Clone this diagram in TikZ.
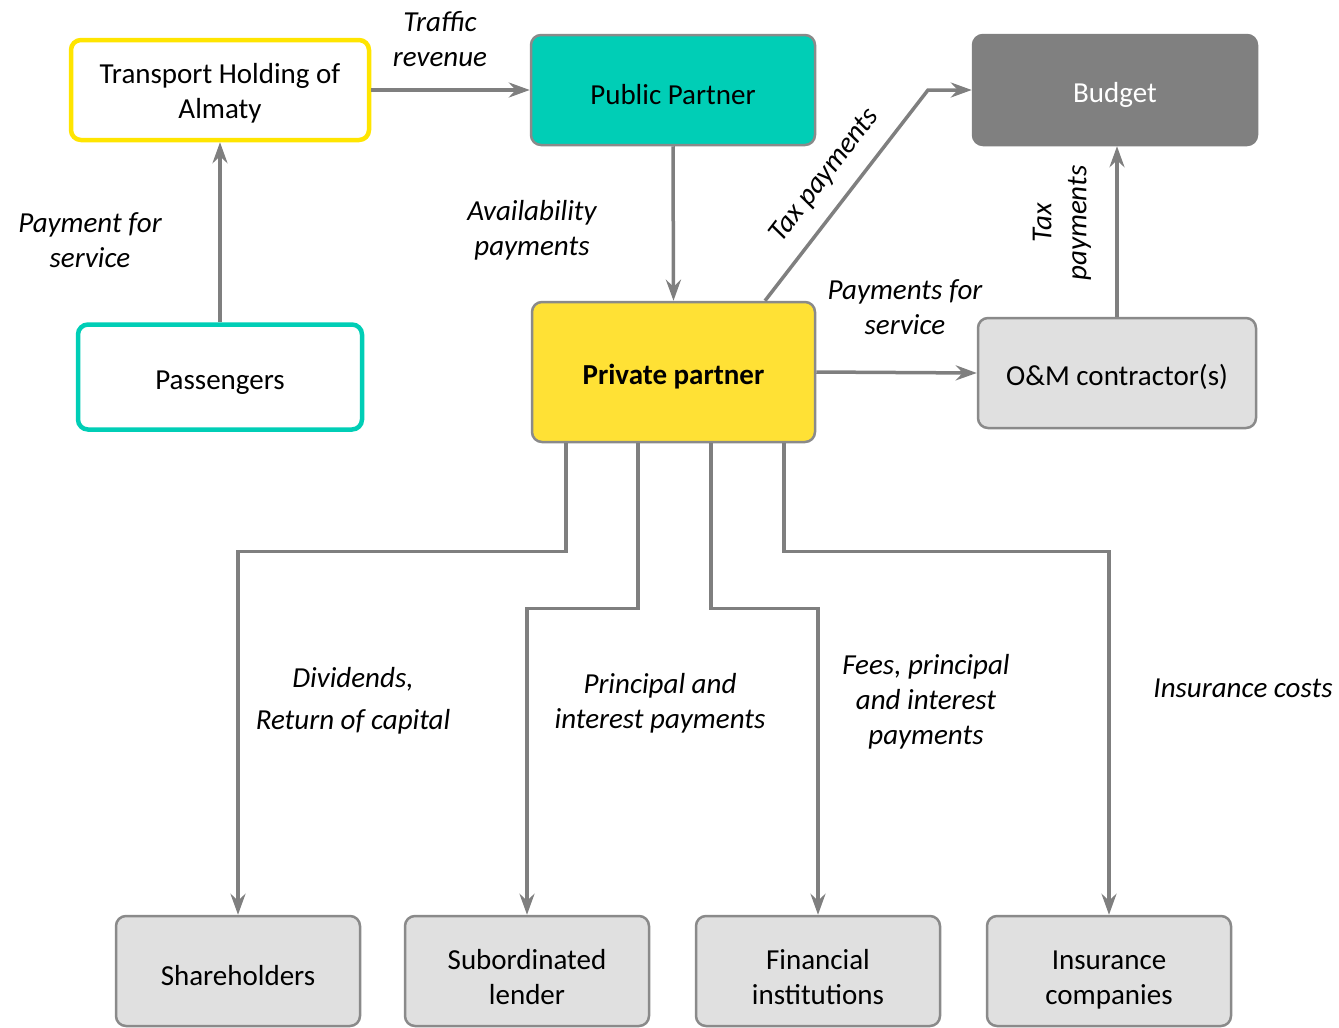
\documentclass[tikz,border=0pt]{standalone}
\usepackage{fontspec}
\setmainfont{Carlito}
\usetikzlibrary{arrows.meta}
\definecolor{teal1}{HTML}{00CEB6}
\definecolor{yel}{HTML}{FFE135}
\definecolor{yelb}{HTML}{FFE500}
\definecolor{lin}{HTML}{7F7F7F}
\definecolor{bord}{HTML}{8A8A8A}
\definecolor{lgray}{HTML}{E0E0E0}
\definecolor{dgray}{HTML}{808080}
\newcommand{\stz}[1]{\rule{0pt}{#1pt}}
\tikzset{
  box/.style={rectangle, rounded corners=10pt, draw=bord, line width=2.5pt, align=center,
    font=\fontsize{29}{35}\selectfont, inner sep=2pt},
  lbl/.style={align=center, font=\fontsize{29}{35}\selectfont\itshape, inner sep=0pt},
  arr/.style={draw=lin, line width=3.5pt, -{Stealth[length=21pt,width=15pt,inset=7pt]}},
}
\begin{document}
\begin{tikzpicture}[x=1pt,y=-1pt]
\useasboundingbox (0,0) rectangle (1339,1028);
% boxes
\node[box, draw=yelb, line width=4.5pt, fill=white, minimum width=298pt, minimum height=100pt] (th) at (220,90) {\stz{27}Transport Holding of\\Almaty};
\node[box, fill=teal1, minimum width=284pt, minimum height=110pt] (pub) at (673,90) {\stz{30}Public Partner};
\node[box, fill=dgray, draw=dgray, text=white, minimum width=284pt, minimum height=110pt] (bu) at (1115,90) {\stz{30}Budget};
\node[box, draw=teal1, line width=4.5pt, fill=white, minimum width=284pt, minimum height=105pt] (pa) at (220,377) {\stz{30}Passengers};
\node[box, fill=yel, minimum width=283pt, minimum height=140pt, font=\fontsize{29}{35}\selectfont\bfseries] (pp) at (673.5,372) {\stz{30}Private partner};
\node[box, fill=lgray, minimum width=278pt, minimum height=110pt] (om) at (1117,373) {\stz{30}O\&M contractor(s)};
\node[box, fill=lgray, minimum width=244pt, minimum height=110pt] (sh) at (238,971) {\stz{30}Shareholders};
\node[box, fill=lgray, minimum width=244pt, minimum height=110pt] (sl) at (527,971) {\stz{33}Subordinated\\lender};
\node[box, fill=lgray, minimum width=244pt, minimum height=110pt] (fi) at (818,971) {\stz{33}Financial\\institutions};
\node[box, fill=lgray, minimum width=244pt, minimum height=110pt] (ic) at (1109,971) {\stz{37}Insurance\\companies};
% connectors
\coordinate (bend) at (928,90);
\draw[arr] (th.east) -- (pub.west);
\draw[arr] (pub.south) -- (pp.north);
\draw[arr] (pa.north) -- (th.south);
\draw[arr] ([xshift=91.5pt]pp.north) -- (bend) -- (bu.west);
\draw[arr] (om.north) -- (bu.south -| om.north);
\draw[arr] (pp.east) -- (om.west);
\draw[arr] ([xshift=-107.5pt]pp.south) -- ++(0,108) -| (sh.north);
\draw[arr] ([xshift=-35.5pt]pp.south) -- ++(0,165) -| (sl.north);
\draw[arr] ([xshift=37.5pt]pp.south) -- ++(0,165) -| (fi.north);
\draw[arr] ([xshift=110.5pt]pp.south) -- ++(0,108) -| (ic.north);
% labels
\node[lbl] (l1) at (440,39) {Traffic\\revenue};
\node[lbl] (l2) at (532,230) {Availability\\payments};
\node[lbl] (l3) at (90,240) {Payment for\\service};
\node[lbl, rotate=52.4] (l4) at (825,176) {Tax payments};
\node[lbl, rotate=90] (l5) at (1062,223) {Tax\\payments};
\node[lbl] (l6) at (905,307) {Payments for\\service};
\node[lbl, font=\fontsize{29}{42}\selectfont\itshape] (l7) at (353,701) {Dividends,\\Return of capital};
\node[lbl] (l8) at (660,703) {Principal and\\interest payments};
\node[lbl] (l9) at (926,702) {Fees, principal\\and interest\\payments};
\node[lbl] (l10) at (1243,688) {Insurance costs};
\end{tikzpicture}
\end{document}
